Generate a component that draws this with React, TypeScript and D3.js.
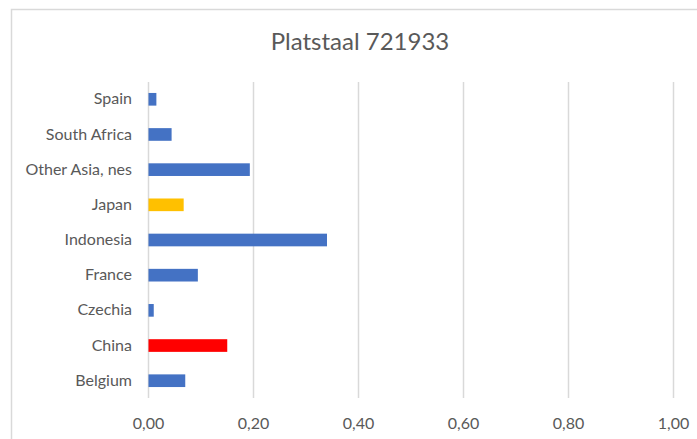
import React, { useEffect, useRef } from 'react';
import * as d3 from 'd3';

const categories = ['Spain', 'South Africa', 'Other Asia, nes', 'Japan', 'Indonesia', 'France', 'Czechia', 'China', 'Belgium'];
const values = [0.015, 0.044, 0.193, 0.067, 0.34, 0.094, 0.01, 0.15, 0.07];
const ticks = [0, 0.2, 0.4, 0.6, 0.8, 1.0];
const title = 'Platstaal 721933';

const barColor = '#4472C4';
const highlight: Record<string, string> = { Japan: '#FFC000', China: '#FF0000' };

const App: React.FC = () => {
  const svgRef = useRef<SVGSVGElement>(null);

  useEffect(() => {
    document.body.style.margin = '0';
    if (!svgRef.current) return;

    const data = categories.map((c, i) => ({ name: c, value: values[i] }));
    const width = 697;
    const height = 439;
    const font = 'Lato, "Open Sans", sans-serif';

    d3.select(svgRef.current).selectAll('*').remove();

    const svg = d3.select(svgRef.current)
      .attr('width', width)
      .attr('height', height);

    svg.append('rect')
      .attr('width', width)
      .attr('height', height)
      .attr('fill', '#fff');

    // chart area border (runs off the right and bottom edge)
    svg.append('rect')
      .attr('x', 11.5)
      .attr('y', 9.5)
      .attr('width', 800)
      .attr('height', 600)
      .attr('fill', 'none')
      .attr('stroke', '#D9D9D9')
      .attr('stroke-width', 1.5);

    svg.append('text')
      .attr('x', 360)
      .attr('y', 50)
      .attr('text-anchor', 'middle')
      .attr('fill', '#595959')
      .style('font-family', font)
      .style('font-size', '24px')
      .text(title);

    const x = d3.scaleLinear()
      .domain([0, 1])
      .range([148, 673]);

    const y = d3.scaleBand<string>()
      .domain(categories)
      .range([81.7, 398.3])
      .paddingInner(0.64)
      .paddingOuter(0.32);

    const grid = svg.append('g');
    grid.selectAll('line')
      .data(ticks)
      .enter()
      .append('line')
      .attr('x1', d => Math.round(x(d)) + 0.5)
      .attr('x2', d => Math.round(x(d)) + 0.5)
      .attr('y1', 82)
      .attr('y2', 398)
      .attr('stroke', '#D9D9D9')
      .attr('stroke-width', 1.5);

    const xAxis = svg.append('g')
      .attr('transform', 'translate(0,398)')
      .call(d3.axisBottom(x).tickValues(ticks).tickSize(0).tickPadding(20)
        .tickFormat(d => d3.format('.2f')(d as number).replace('.', ',')));
    xAxis.select('.domain').remove();
    xAxis.selectAll('text')
      .attr('fill', '#595959')
      .style('font-family', font)
      .style('font-size', '16px');

    const yAxis = svg.append('g')
      .attr('transform', 'translate(148,0)')
      .call(d3.axisLeft(y).tickSize(0).tickPadding(16));
    yAxis.select('.domain').remove();
    yAxis.selectAll('text')
      .attr('fill', '#595959')
      .style('font-family', font)
      .style('font-size', '16px');

    svg.append('g')
      .selectAll('rect')
      .data(data)
      .enter()
      .append('rect')
      .attr('x', x(0) + 0.5)
      .attr('y', d => y(d.name) as number)
      .attr('width', d => x(d.value) - x(0))
      .attr('height', y.bandwidth())
      .attr('fill', d => highlight[d.name] || barColor);
  }, []);

  return <svg ref={svgRef}></svg>;
};

export default App;
